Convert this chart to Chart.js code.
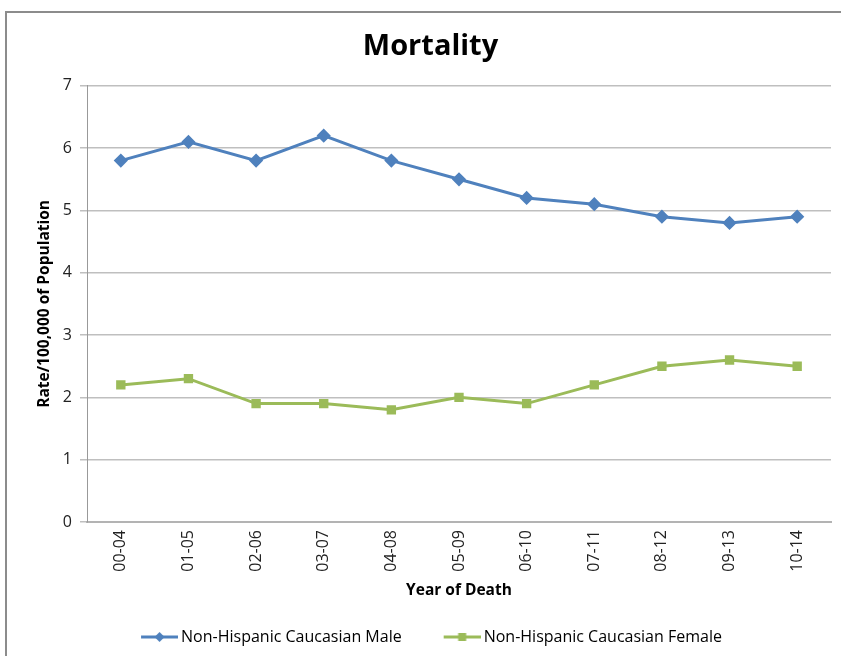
<!DOCTYPE html>
<html>
<head>
<meta charset="utf-8">
<script src="https://cdn.jsdelivr.net/npm/chart.js@4.4.1/dist/chart.umd.min.js"></script>
<style>
  body { margin: 0; background: #fff; }
  #wrap { position: relative; width: 841px; height: 656px; overflow: hidden; }
  #frame { position: absolute; left: 5px; top: 11px; width: 900px; height: 700px; border: 2px solid #8c8c8c; }
  #chart { position: absolute; left: 0; top: 0; }
</style>
</head>
<body>
<div id="wrap">
  <div id="frame"></div>
  <canvas id="chart" width="841" height="656"></canvas>
</div>
<script>
// data
const periods = ['00-04', '01-05', '02-06', '03-07', '04-08', '05-09', '06-10', '07-11', '08-12', '09-13', '10-14'];
const maleRates = [5.8, 6.1, 5.8, 6.2, 5.8, 5.5, 5.2, 5.1, 4.9, 4.8, 4.9];
const femaleRates = [2.2, 2.3, 1.9, 1.9, 1.8, 2.0, 1.9, 2.2, 2.5, 2.6, 2.5];
const yTicks = [0, 1, 2, 3, 4, 5, 6, 7];

const fontFam = "'Open Sans', 'DejaVu Sans', sans-serif";
const blue = '#4F81BD';
const green = '#9BBB59';

// legend icon: transparent lead-in, then line with marker (line ends right before the text)
function legendIcon(color, shape) {
    let c = document.createElement('canvas');
    c.width = 64; c.height = 12;
    let g = c.getContext('2d');
    g.strokeStyle = color;
    g.lineWidth = 3;
    g.beginPath(); g.moveTo(27, 6); g.lineTo(64, 6); g.stroke();
    g.fillStyle = color;
    if (shape === 'diamond') {
        g.beginPath(); g.moveTo(45.5, 1); g.lineTo(50.5, 6); g.lineTo(45.5, 11); g.lineTo(40.5, 6); g.closePath(); g.fill();
    } else {
        g.fillRect(41.5, 2, 8, 8);
    }
    return c;
}
const icons = [legendIcon(blue, 'diamond'), legendIcon(green, 'square')];

// nudge the legend row a little to the left, like the original
const legendShift = {
    id: 'legendShift',
    afterLayout: function (chart) {
        chart.legend.left -= 10;
        chart.legend.right -= 10;
    }
};

let ctx = document.getElementById('chart');

new Chart(ctx, {
    type: 'line',
    data: {
        labels: periods,
        datasets: [{
            label: 'Non-Hispanic Caucasian Male',
            data: maleRates,
            borderColor: blue,
            backgroundColor: blue,
            borderWidth: 3,
            pointStyle: 'rectRot',
            pointRadius: 5,
            tension: 0
        }, {
            label: 'Non-Hispanic Caucasian Female',
            data: femaleRates,
            borderColor: green,
            backgroundColor: green,
            borderWidth: 3,
            pointStyle: 'rect',
            pointRadius: 4.5,
            tension: 0
        }]
    },
    plugins: [legendShift],
    options: {
        responsive: false,
        animation: false,
        layout: { padding: { left: 30, right: 10, top: 0, bottom: 1 } },
        plugins: {
            title: {
                display: true,
                text: 'Mortality',
                color: '#000',
                font: { family: fontFam, size: 29, weight: 'bold' },
                padding: { top: 29, bottom: 22 }
            },
            legend: {
                position: 'bottom',
                labels: {
                    usePointStyle: true,
                    pointStyleWidth: 54,
                    boxHeight: 12,
                    color: '#222',
                    font: { family: fontFam, size: 16 },
                    padding: 20,
                    generateLabels: function (chart) {
                        return chart.data.datasets.map((ds, i) => ({
                            text: ds.label,
                            pointStyle: icons[i],
                            fillStyle: ds.borderColor,
                            strokeStyle: ds.borderColor,
                            lineWidth: 0,
                            datasetIndex: i
                        }));
                    }
                }
            },
            tooltip: { enabled: false }
        },
        scales: {
            x: {
                offset: true,
                afterFit: function (axis) {
                    axis.height = 87;
                },
                grid: { display: false, drawTicks: false },
                border: { color: '#b3b3b3', width: 2 },
                ticks: {
                    minRotation: 90, maxRotation: 90,
                    padding: 8,
                    color: '#222',
                    font: { family: fontFam, size: 16 }
                },
                title: {
                    display: true,
                    text: 'Year of Death',
                    color: '#000',
                    font: { family: fontFam, size: 15.5, weight: 'bold' },
                    padding: { top: 2, bottom: 9 }
                }
            },
            y: {
                min: 0,
                max: 7,
                afterBuildTicks: function (axis) {
                    axis.ticks = yTicks.map(v => ({ value: v }));
                },
                afterFit: function (axis) {
                    axis.width = 57;
                },
                grid: { color: '#bfbfbf', lineWidth: 1.5, tickLength: 7 },
                border: { color: '#999', width: 1 },
                ticks: {
                    padding: 8,
                    color: '#222',
                    font: { family: fontFam, size: 16 }
                },
                title: {
                    display: true,
                    text: 'Rate/100,000 of Population',
                    color: '#000',
                    font: { family: fontFam, size: 15.5, weight: 'bold' },
                    padding: { top: 5, bottom: 0 }
                }
            }
        }
    }
});
</script>
</body>
</html>
